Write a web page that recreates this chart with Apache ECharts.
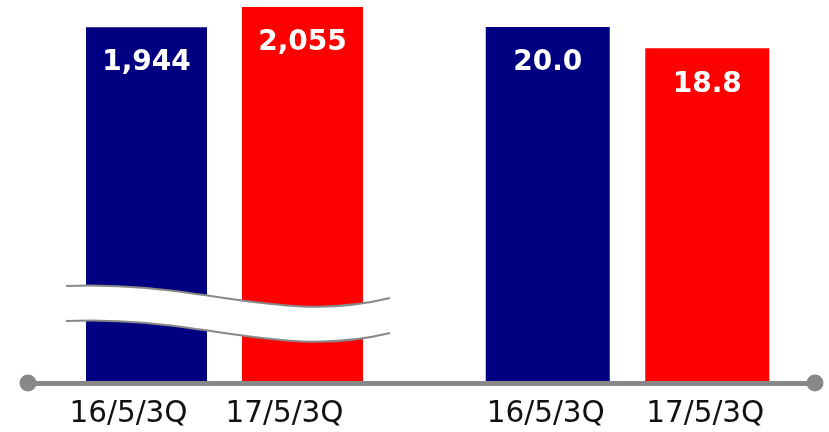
<!DOCTYPE html>
<html>
<head>
<meta charset="utf-8">
<script src="https://cdn.jsdelivr.net/npm/echarts@6/dist/echarts.min.js"></script>
<style>html,body{margin:0;padding:0;background:#fff}#c{width:829px;height:432px}</style>
</head>
<body>
<div id="c"></div>
<script>
const categories = ['16/5/3Q', '17/5/3Q'];
const leftValues = [1944, 2055];
const rightValues = [20.0, 18.8];
const barColors = ['#000080', '#FF0000'];

const chart = echarts.init(document.getElementById('c'));
const catAxis = (gi, pad) => ({
  type: 'category', gridIndex: gi, data: categories,
  axisLine: {show: false}, axisTick: {show: false},
  axisLabel: {color: '#111', fontSize: 29.5, fontFamily: 'DejaVu Sans', margin: 18, padding: pad}
});
const valAxis = (gi) => ({
  type: 'value', gridIndex: gi, min: 0, max: 'dataMax', show: false,
  splitLine: {show: false}
});
const labelStyle = (fmt) => ({
  show: true, position: 'insideTop', distance: 22, color: '#fff',
  fontSize: 28, fontWeight: 'bold', fontFamily: 'DejaVu Sans', formatter: fmt
});

// decorative axis-break wave
function wave(dy) {
  return {x1: 66, y1: 286 + dy, cpx1: 200, cpy1: 280 + dy, cpx2: 280, cpy2: 325 + dy, x2: 390, y2: 298 + dy};
}
function sample(s, n) {
  const pts = [];
  for (let i = 0; i <= n; i++) {
    const t = i / n, u = 1 - t;
    const a = u * u * u, b = 3 * u * u * t, c = 3 * u * t * t, d = t * t * t;
    pts.push([a * s.x1 + b * s.cpx1 + c * s.cpx2 + d * s.x2, a * s.y1 + b * s.cpy1 + c * s.cpy2 + d * s.y2]);
  }
  return pts;
}
const waveTop = wave(0), waveBot = wave(35);
const band = sample(waveTop, 40).concat(sample(waveBot, 40).reverse());

chart.setOption({
  animation: false,
  color: barColors,
  grid: [
    {left: 68.5, right: 448.5, top: 7, bottom: 51},
    {left: 468, right: 42, top: 27, bottom: 51},
    {left: 28, right: 14, top: 300, bottom: 49}
  ],
  xAxis: [
    catAxis(0, [0, 36, 0, 0]), catAxis(1, [0, 4, 0, 0]),
    {type: 'value', gridIndex: 2, min: 0, max: 1,
     axisLine: {show: true, symbol: ['circle', 'circle'], symbolSize: [17, 17],
       lineStyle: {color: '#888888', width: 5}},
     axisTick: {show: false}, axisLabel: {show: false}, splitLine: {show: false}}
  ],
  yAxis: [valAxis(0), valAxis(1), {type: 'value', gridIndex: 2, show: false, splitLine: {show: false}}],
  series: [
    {type: 'bar', xAxisIndex: 0, yAxisIndex: 0, data: leftValues, colorBy: 'data',
     barWidth: 121, label: labelStyle(p => p.value.toLocaleString('en-US'))},
    {type: 'bar', xAxisIndex: 1, yAxisIndex: 1, data: rightValues, colorBy: 'data',
     barWidth: 124, label: labelStyle(p => p.value.toFixed(1))}
  ],
  graphic: [
    {type: 'polygon', z: 100, silent: true, shape: {points: band}, style: {fill: '#fff'}},
    {type: 'bezierCurve', z: 101, silent: true, shape: waveTop, style: {fill: null, stroke: '#888', lineWidth: 2}},
    {type: 'bezierCurve', z: 101, silent: true, shape: waveBot, style: {fill: null, stroke: '#888', lineWidth: 2}}
  ]
});
</script>
</body>
</html>
